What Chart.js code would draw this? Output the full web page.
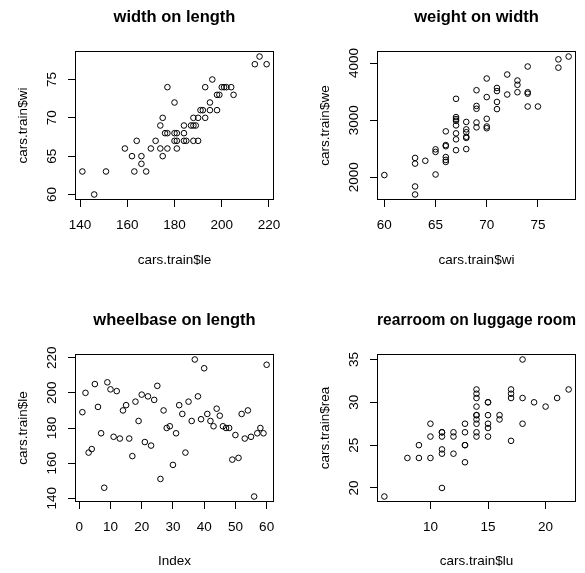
<!DOCTYPE html>
<html>
<head>
<meta charset="utf-8">
<script src="https://cdn.jsdelivr.net/npm/chart.js@4"></script>
<style>
  body { margin: 0; background: #fff; }
  #page { position: relative; width: 585px; height: 573px; }
  canvas { position: absolute; }
</style>
</head>
<body>
<div id="page">
  <canvas id="c1" width="300" height="290" style="left:0px;top:0px"></canvas>
  <canvas id="c2" width="285" height="290" style="left:300px;top:0px"></canvas>
  <canvas id="c3" width="300" height="283" style="left:0px;top:290px"></canvas>
  <canvas id="c4" width="285" height="283" style="left:300px;top:290px"></canvas>
</div>
<script>
// width on length
var p1Length = [141,146,151,159,162,164,163,166,166,168,170,172,174,175,174,175,176,177,177,177,
  180,180,181,180,181,181,184,184,184,185,187,188,189,188,190,188,190,191,192,193,
  195,195,198,193,196,198,199,200,201,202,204,205,214,216,219];
var p1Width = [63,60,63,66,65,67,63,65,64,63,66,67,66,65,69,70,68,68,66,74,
  72,68,68,67,67,66,69,68,67,67,69,69,69,70,70,67,67,71,71,70,
  72,71,71,74,75,73,73,74,74,74,74,73,77,78,77];
var p1XTicks = [140, 160, 180, 200, 220];
var p1YTicks = [60, 65, 70, 75];

// weight on width
var p2Width = [60,63,63,63,63,64,65,65,65,66,66,66,66,66,66,67,67,67,67,67,67,67,67,
  68,68,68,68,68,68,69,69,69,69,69,70,70,70,70,70,71,71,71,71,72,72,73,73,73,
  74,74,74,74,75,77,77,78];
var p2Weight = [2040,1840,1700,2340,2240,2290,2050,2490,2445,2805,2565,2545,2355,2305,2270,
  3375,3055,3020,2990,2910,2770,2665,2475,2970,2840,2790,2710,2690,2495,
  3525,3250,3200,2960,2875,3730,3405,3025,2890,2860,3565,3510,3320,3195,
  3800,3450,3695,3620,3490,3940,3490,3465,3240,3240,4065,3920,4115];
var p2XTicks = [60, 65, 70, 75];
var p2YTicks = [2000, 3000, 4000];

// wheelbase on length (plotted against index)
var p3Length = [189,200,166,168,205,192,177,146,206,202,175,201,174,190,193,174,164,195,184,199,
  172,198,170,196,204,151,190,180,181,159,177,193,188,166,195,184,219,198,185,214,
  188,184,181,191,187,181,180,180,162,176,163,188,174,190,175,141,177,180,177,216];
var p3XTicks = [0, 10, 20, 30, 40, 50, 60];
var p3YTicks = [140, 160, 180, 200, 220];

// rearroom on luggage room
var p4Luggage = [6,8,9,9,10,10,10,11,11,11,11,11,11,12,12,12,13,13,13,13,13,
  14,14,14,14,14,14,14,14,14,14,15,15,15,15,15,15,16,16,17,17,17,17,18,18,18,19,20,21,22];
var p4Rear = [19,23.5,23.5,25,23.5,26,27.5,20,24,24.5,26,26.5,26.5,24,26,26.5,23,25,25,26.5,27.5,
  26,26.5,27.5,28,28.5,28.5,29.5,30.5,31,31.5,26,27,27.5,28.5,30,30,28,28.5,25.5,30.5,31,31.5,
  27.5,30.5,35,30,29.5,30.5,31.5];
var p4XTicks = [10, 15, 20];
var p4YTicks = [20, 25, 30, 35];

var FONT = '"Liberation Sans", Arial, Helvetica, sans-serif';
Chart.defaults.font.family = FONT;
Chart.defaults.color = '#000';

// R-style axis range: data range padded by 4% on each side
function rRange(v) {
  var lo = Math.min.apply(null, v), hi = Math.max.apply(null, v);
  var d = (hi - lo) * 0.04;
  return [lo - d, hi + d];
}

function textWidth(labels, size) {
  var ctx = document.createElement('canvas').getContext('2d');
  ctx.font = size + 'px ' + FONT;
  var w = 0;
  labels.forEach(function(l) { w = Math.max(w, ctx.measureText(String(l)).width); });
  return w;
}

var framePlugin = {
  id: 'frame',
  afterDraw: function(chart) {
    var a = chart.chartArea, ctx = chart.ctx;
    ctx.save();
    ctx.strokeStyle = '#000';
    ctx.lineWidth = 1;
    ctx.strokeRect(Math.round(a.left) + 0.5, Math.round(a.top) + 0.5,
      Math.round(a.right - a.left) - 1, Math.round(a.bottom - a.top) - 1);
    ctx.restore();
  }
};

function plain(v) { return String(v); }

function makePlot(id, g) {
  var xr = rRange(g.xs), yr = rRange(g.ys);
  var pts = g.xs.map(function(x, i) { return {x: x, y: g.ys[i]}; });
  var yPad = 23 - 7 - textWidth(g.yTicks, 13.5) / 2;
  return new Chart(document.getElementById(id), {
    type: 'scatter',
    data: {
      datasets: [{
        data: pts,
        pointStyle: 'circle',
        pointRadius: 2.8,
        borderWidth: 1,
        borderColor: '#000',
        backgroundColor: 'rgba(0,0,0,0)'
      }]
    },
    options: {
      responsive: false,
      animation: false,
      events: [],
      layout: { padding: { left: 0, right: g.padRight, top: 0, bottom: 0 } },
      plugins: {
        legend: { display: false },
        tooltip: { enabled: false },
        title: {
          display: true,
          text: g.title,
          fullSize: false,
          color: '#000',
          font: { size: 16.5, weight: 'bold' },
          padding: { top: g.titleTop, bottom: g.titleBottom }
        }
      },
      scales: {
        x: {
          type: 'linear',
          min: xr[0], max: xr[1],
          bounds: 'data',
          afterBuildTicks: function(s) { s.ticks = g.xTicks.map(function(v) { return {value: v}; }); },
          afterFit: function(s) { s.height = g.xHeight; },
          grid: { drawOnChartArea: false, drawTicks: true, tickLength: 7, color: '#000', tickColor: '#000' },
          border: { display: false },
          ticks: { autoSkip: false, maxRotation: 0, padding: 9.9, font: { size: 13.5 }, color: '#000',
                   callback: plain },
          title: { display: true, text: g.xLabel, color: '#000', font: { size: 13.5 },
                   padding: { top: 0, bottom: g.xTitleBottom } }
        },
        y: {
          type: 'linear',
          min: yr[0], max: yr[1],
          bounds: 'data',
          afterBuildTicks: function(s) { s.ticks = g.yTicks.map(function(v) { return {value: v}; }); },
          afterFit: function(s) { s.width = g.yWidth; },
          grid: { drawOnChartArea: false, drawTicks: true, tickLength: 7, color: '#000', tickColor: '#000' },
          border: { display: false },
          ticks: { autoSkip: false, minRotation: 90, maxRotation: 90, crossAlign: 'center',
                   padding: yPad, font: { size: 13.5 }, color: '#000', callback: plain },
          title: { display: true, text: g.yLabel, color: '#000', font: { size: 13.5 },
                   padding: { top: g.yTitleTop, bottom: 0 } }
        }
      }
    },
    plugins: [framePlugin]
  });
}

makePlot('c1', {
  title: 'width on length', xLabel: 'cars.train$le', yLabel: 'cars.train$wi',
  xs: p1Length, ys: p1Width, xTicks: p1XTicks, yTicks: p1YTicks,
  padRight: 26, yWidth: 75, xHeight: 90, titleTop: 7.1, titleBottom: 24.1,
  xTitleBottom: 21.9, yTitleTop: 14.9
});
makePlot('c2', {
  title: 'weight on width', xLabel: 'cars.train$wi', yLabel: 'cars.train$we',
  xs: p2Width, ys: p2Weight, xTicks: p2XTicks, yTicks: p2YTicks,
  padRight: 9, yWidth: 77, xHeight: 90, titleTop: 7.1, titleBottom: 24.1,
  xTitleBottom: 21.9, yTitleTop: 16.9
});
makePlot('c3', {
  title: 'wheelbase on length', xLabel: 'Index', yLabel: 'cars.train$le',
  xs: p3Length.map(function(v, i) { return i + 1; }), ys: p3Length,
  xTicks: p3XTicks, yTicks: p3YTicks,
  padRight: 26, yWidth: 75, xHeight: 71, titleTop: 20.1, titleBottom: 24.1,
  xTitleBottom: 3.9, yTitleTop: 14.9
});
makePlot('c4', {
  title: 'rearroom on luggage room', xLabel: 'cars.train$lu', yLabel: 'cars.train$rea',
  xs: p4Luggage, ys: p4Rear, xTicks: p4XTicks, yTicks: p4YTicks,
  padRight: 9, yWidth: 77, xHeight: 71, titleTop: 20.1, titleBottom: 24.1,
  xTitleBottom: 3.9, yTitleTop: 16.9
});
</script>
</body>
</html>
